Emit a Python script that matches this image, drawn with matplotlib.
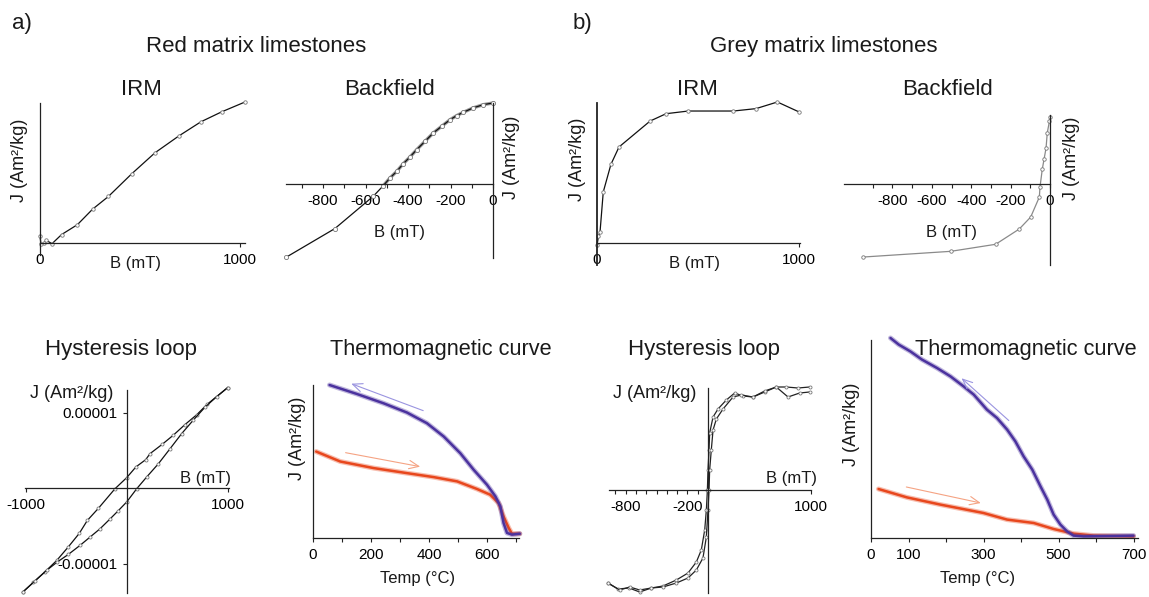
import numpy as np
import matplotlib.pyplot as plt

plt.rcParams['font.family'] = ['Liberation Sans', 'DejaVu Sans']

W, H = 1149, 597

# ---- red matrix limestones ----
irm_red_B = [0, 5, 20, 30, 60, 108, 187, 263, 342, 458, 575, 695, 805, 908, 1025]
irm_red_J = [0.05, -0.01, 0.0, 0.02, -0.005, 0.06, 0.13, 0.24, 0.33, 0.49, 0.64, 0.76, 0.86, 0.93, 1.0]

bf_red_B = [0, -45, -93, -140, -171, -202, -242, -281, -320, -359, -391, -422, -453, -485, -516, -563, -744, -974]
bf_red_J = [1.0, 0.98, 0.94, 0.885, 0.844, 0.794, 0.712, 0.63, 0.527, 0.424, 0.333, 0.251, 0.156, 0.074, -0.02, -0.15, -0.55, -0.905]

# hysteresis, J in units of 1e-5 Am2/kg
hys_red_up_B = [997, 795, 690, 574, 459, 350, 228, 185, 89, -3, -119, -284, -393, -472, -581, -696, -812, -927, -1033]
hys_red_up_J = [1.33, 1.11, 0.97, 0.84, 0.70, 0.58, 0.455, 0.375, 0.28, 0.137, -0.01, -0.27, -0.43, -0.60, -0.78, -0.96, -1.11, -1.25, -1.38]
hys_red_dn_B = [-1033, -911, -795, -690, -581, -465, -366, -267, -168, -86, -3, 96, 195, 310, 426, 541, 657, 772, 888, 997]
hys_red_dn_J = [-1.38, -1.23, -1.09, -0.98, -0.88, -0.76, -0.65, -0.54, -0.41, -0.30, -0.185, -0.01, 0.146, 0.32, 0.52, 0.72, 0.90, 1.07, 1.21, 1.33]

tm_red_cool_T = [57, 152, 244, 324, 393, 451, 508, 554, 600, 629, 646, 657, 669, 686, 713]
tm_red_cool_J = [1.0, 0.941, 0.880, 0.820, 0.750, 0.663, 0.554, 0.446, 0.348, 0.272, 0.207, 0.098, 0.033, 0.022, 0.028]
tm_red_heat_T = [11, 94, 209, 324, 416, 497, 566, 611, 640, 657, 675, 686, 713]
tm_red_heat_J = [0.565, 0.5, 0.457, 0.424, 0.398, 0.370, 0.320, 0.283, 0.228, 0.141, 0.065, 0.028, 0.028]

# ---- grey matrix limestones ----
irm_grey_B = [0, 7, 15, 31, 69, 109, 263, 342, 452, 675, 787, 893, 1001]
irm_grey_J = [-0.017, 0.047, 0.078, 0.362, 0.558, 0.681, 0.865, 0.917, 0.936, 0.936, 0.953, 1.0, 0.929]

bf_grey_B = [0, -3, -14, -20, -30, -39, -51, -54, -98, -156, -276, -504, -948]
bf_grey_J = [1.0, 0.935, 0.761, 0.537, 0.373, 0.224, -0.05, -0.194, -0.493, -0.672, -0.90, -1.005, -1.09]

hys_grey_up_B = [987, 874, 760, 663, 550, 437, 340, 259, 178, 97, 49, 16, 10, 0, -6, -16, -32, -65, -113, -194, -307, -437, -550, -663, -767, -874, -971]
hys_grey_up_J = [1.03, 1.02, 1.03, 1.03, 0.98, 0.93, 0.94, 0.97, 0.90, 0.81, 0.73, 0.57, 0.40, 0.20, 0.0, -0.20, -0.40, -0.60, -0.72, -0.83, -0.90, -0.96, -0.98, -1.02, -0.98, -0.99, -0.93]
hys_grey_dn_B = [-971, -858, -760, -663, -550, -437, -307, -194, -113, -49, -16, 0, 10, 16, 32, 49, 81, 146, 243, 324, 437, 550, 663, 777, 890, 987]
hys_grey_dn_J = [-0.93, -1.00, -0.97, -1.00, -0.98, -0.97, -0.93, -0.88, -0.80, -0.68, -0.47, -0.20, 0.0, 0.20, 0.40, 0.60, 0.71, 0.81, 0.93, 0.95, 0.93, 0.99, 1.03, 0.93, 0.97, 0.98]

tm_grey_cool_T = [52, 74, 105, 136, 176, 212, 247, 274, 309, 336, 363, 385, 407, 430, 452, 470, 487, 505, 523, 540, 567, 700]
tm_grey_cool_J = [1.0, 0.967, 0.933, 0.892, 0.85, 0.808, 0.758, 0.717, 0.642, 0.6, 0.542, 0.483, 0.408, 0.342, 0.258, 0.192, 0.117, 0.067, 0.033, 0.012, 0.008, 0.012]
tm_grey_heat_T = [20, 96, 185, 300, 363, 434, 487, 540, 594, 700]
tm_grey_heat_J = [0.245, 0.203, 0.167, 0.125, 0.092, 0.075, 0.045, 0.022, 0.012, 0.008]

BLUE = '#4b329e'
RED = '#e8471d'
AX = '#222222'

fig = plt.figure(figsize=(W / 100, H / 100), dpi=100)


def panel(box, origin, scale):
    x0, x1, y0, y1 = box
    ox, oy = origin
    sx, sy = scale
    ax = fig.add_axes([x0 / W, 1 - y1 / H, (x1 - x0) / W, (y1 - y0) / H])
    ax.set_xlim((x0 - ox) / sx, (x1 - ox) / sx)
    ax.set_ylim((oy - y1) / sy, (oy - y0) / sy)
    ax.patch.set_visible(False)
    ax.spines['top'].set_visible(False)
    ax.spines['right'].set_visible(False)
    for s in ['left', 'bottom']:
        ax.spines[s].set_position(('data', 0))
        ax.spines[s].set_color(AX)
        ax.spines[s].set_linewidth(0.9)
    ax.tick_params(which='both', length=3, width=0.8, color=AX, labelsize=11, pad=4)
    ax.set_yticks([])
    ax.set_xticks([])
    return ax


def txt(x, y, s, size=12, rot=0, va='baseline'):
    fig.text(x / W, 1 - y / H, s, ha='center', va=va, fontsize=size, rotation=rot, color='#1a1a1a')


def pts(ax, x, y, color='#111111', mcolor='#777777', ms=2.5, lw=0.9):
    ax.plot(x, y, '-', color=color, lw=lw, marker='o', ms=ms, mfc='white', mec=mcolor, mew=0.6)


def tm(ax, x, y, color):
    ax.plot(x, y, '-', color=color, lw=3.6, alpha=0.35, solid_capstyle='round')
    ax.plot(x, y, '-', color=color, lw=1.8, solid_capstyle='round')


def arrow(ax, start, end, color):
    ax.annotate('', xy=end, xytext=start,
                arrowprops=dict(arrowstyle='->,head_length=0.7,head_width=0.3', color=color, lw=0.8))


# headers
txt(22, 29, 'a)', 16)
txt(582, 29, 'b)', 16)
txt(256, 52, 'Red matrix limestones', 16)
txt(824, 52, 'Grey matrix limestones', 16)
txt(141, 95, 'IRM', 16)
txt(389, 95, 'Backfield', 16)
txt(697, 95, 'IRM', 16)
txt(947, 95, 'Backfield', 16)
txt(121, 355, 'Hysteresis loop', 16)
txt(441, 355, 'Thermomagnetic curve', 15.7)
txt(704, 355, 'Hysteresis loop', 16)
txt(1026, 355, 'Thermomagnetic curve', 15.7)

JL = 'J (Am²/kg)'
JS = 13

# a) IRM
ax = panel((28, 255, 98, 270), (40, 243), (0.2, 141))
pts(ax, irm_red_B, irm_red_J)
ax.spines['left'].set_bounds(-0.085, 0.993)
ax.spines['bottom'].set_bounds(0, 1025)
ax.set_xticks([0, 1000], ['0', '1000'])
ax.get_xticklabels()[0].set_x(0)
txt(135, 268, 'B (mT)')
txt(19, 160, JL, JS, rot=90, va='center')

# a) Backfield
ax = panel((280, 505, 98, 265), (493, 184), (0.2125, 81))
ax.plot(bf_red_B[:15], bf_red_J[:15], '-', color='#555555', lw=2.4, alpha=0.6)
pts(ax, bf_red_B, bf_red_J, ms=3)
ax.spines['left'].set_bounds(-0.91, 1.0)
ax.spines['bottom'].set_bounds(-975, 0)
ax.set_xticks([-800, -600, -400, -200, 0], ['-800', '-600', '-400', '-200', '0'])
ax.set_xticks([-900, -700, -500, -300, -100], minor=True)
txt(400, 237, 'B (mT)')
txt(511, 157, JL, JS, rot=90, va='center')

# b) IRM
ax = panel((588, 812, 98, 270), (597, 243), (0.202, 141))
pts(ax, irm_grey_B, irm_grey_J)
ax.spines['left'].set_bounds(-0.156, 0.993)
ax.spines['left'].set_linewidth(1.3)
ax.spines['bottom'].set_bounds(0, 1003)
ax.set_xticks([0, 1000], ['0', '1000'])
txt(695, 268, 'B (mT)')
txt(578, 159, JL, JS, rot=90, va='center')

# b) Backfield
ax = panel((838, 1062, 105, 270), (1050, 184), (0.197, 67))
pts(ax, bf_grey_B, bf_grey_J, color='#8a8a8a', mcolor='#777777')
ax.spines['left'].set_bounds(-1.21, 1.03)
ax.spines['bottom'].set_bounds(-1046, 0)
ax.set_xticks([-800, -600, -400, -200, 0], ['-800', '-600', '-400', '-200', '0'])
ax.set_xticks([-900, -700, -500, -300, -100], minor=True)
txt(952, 237, 'B (mT)')
txt(1071, 158, JL, JS, rot=90, va='center')

# a) Hysteresis
ax = panel((10, 245, 380, 597), (127, 488), (0.101, 75.5e5))
pts(ax, hys_red_up_B, np.array(hys_red_up_J) * 1e-5, ms=2.2)
pts(ax, hys_red_dn_B, np.array(hys_red_dn_J) * 1e-5, ms=2.2)
ax.spines['left'].set_bounds(-1.39e-5, 1.30e-5)
ax.spines['bottom'].set_bounds(-1010, 1005)
ax.set_xticks([-1000, 1000], ['-1000', '1000'])
ax.set_yticks([-1e-5, 1e-5], ['-0.00001', '0.00001'])
txt(205, 483, 'B (mT)')
txt(72, 398, JL, JS)

# a) Thermomagnetic
ax = panel((300, 535, 375, 545), (313, 538), (0.29, 153))
tm(ax, tm_red_heat_T, tm_red_heat_J, RED)
tm(ax, tm_red_cool_T, tm_red_cool_J, BLUE)
arrow(ax, (389, 0.826), (123, 1.015), '#9a94e0')
arrow(ax, (103, 0.561), (379, 0.463), '#f5a383')
ax.spines['left'].set_bounds(0, 1.0)
ax.spines['bottom'].set_bounds(0, 712)
ax.set_xticks([0, 200, 400, 600], ['0', '200', '400', '600'])
ax.set_xticks([100, 300, 500, 700], minor=True)
txt(418, 583, 'Temp (°C)')
txt(297, 438, JL, JS, rot=90, va='center')

# b) Hysteresis
ax = panel((600, 822, 380, 597), (708, 490), (0.103, 100))
pts(ax, hys_grey_up_B, hys_grey_up_J, color='#222222', ms=2.2)
pts(ax, hys_grey_dn_B, hys_grey_dn_J, color='#222222', ms=2.2)
ax.spines['left'].set_bounds(-1.03, 1.02)
ax.spines['bottom'].set_bounds(-961, 1002)
ax.set_xticks([-800, -200, 1000], ['-800', '-200', '1000'])
ax.set_xticks([-900, -700, -600, -500, -400, -300, -100], minor=True)
txt(792, 483, 'B (mT)')
txt(655, 398, JL, JS)

# b) Thermomagnetic
ax = panel((860, 1145, 335, 545), (871, 538), (0.375, 200))
tm(ax, tm_grey_heat_T, tm_grey_heat_J, RED)
tm(ax, tm_grey_cool_T, tm_grey_cool_J, BLUE)
arrow(ax, (373, 0.578), (236, 0.808), '#9a94e0')
arrow(ax, (87, 0.258), (300, 0.172), '#f5a383')
ax.spines['left'].set_bounds(0, 0.99)
ax.spines['bottom'].set_bounds(0, 712)
ax.set_xticks([0, 100, 300, 500, 700], ['0', '100', '300', '500', '700'])
ax.set_xticks([200, 400, 600], minor=True)
txt(978, 583, 'Temp (°C)')
txt(852, 424, JL, JS, rot=90, va='center')

fig.savefig('out.png', dpi=100)
